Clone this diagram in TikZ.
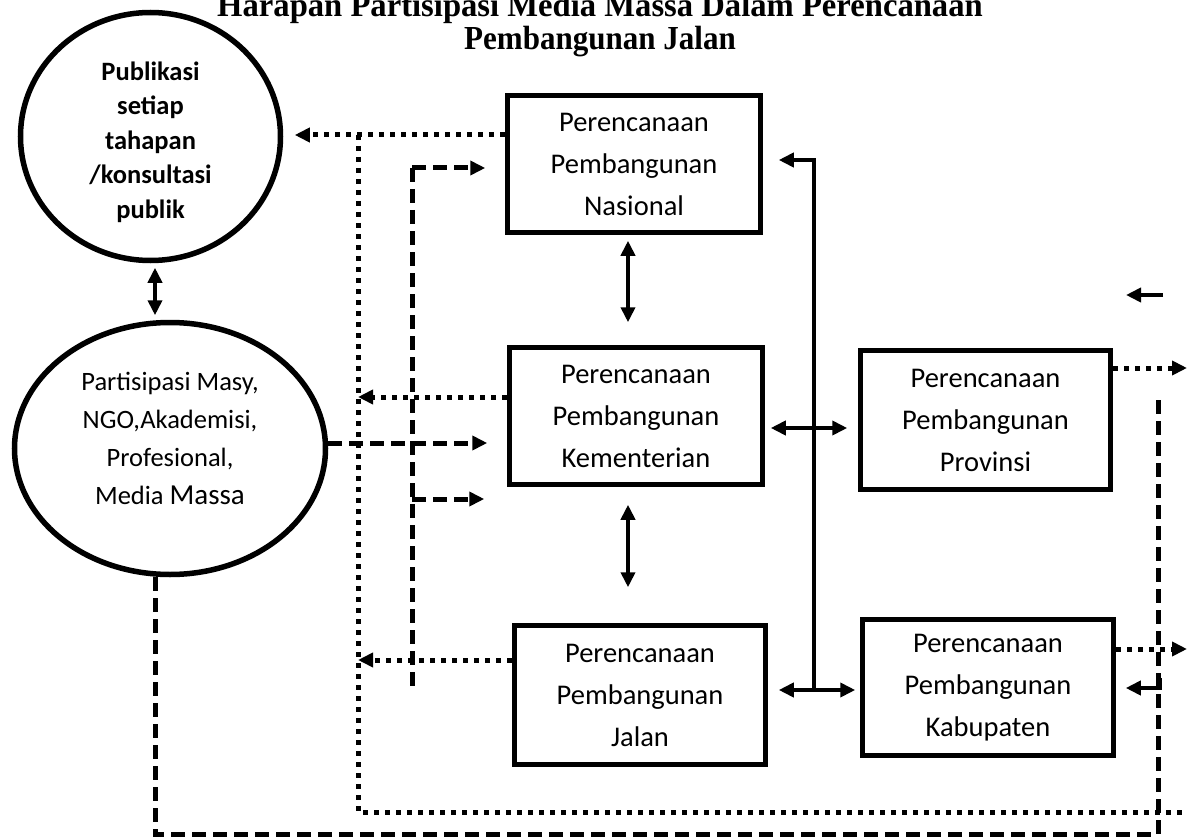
\documentclass[tikz,border=0pt]{standalone}
\usepackage{fontspec}
\setmainfont{Carlito}
\newfontfamily\titlefont{Liberation Serif}
\usetikzlibrary{arrows.meta,shapes.geometric,calc}
\begin{document}
\begin{tikzpicture}[x=1pt,y=-1pt,
  >={Triangle[length=15pt,width=14pt]},
  box/.style={draw,line width=5.5pt,inner sep=0pt,align=center,font=\fontsize{28.5}{42}\selectfont},
  oval/.style={draw,ellipse,line width=5.5pt,inner sep=0pt,align=center},
  dotl/.style={line width=5pt,dash pattern=on 5pt off 6pt},
  dashl/.style={line width=5pt,dash pattern=on 14pt off 7pt},
  soll/.style={line width=4.5pt},
  ttl/.style={anchor=base,inner sep=0pt,font=\titlefont\bfseries\fontsize{32}{32}\selectfont}
]
\useasboundingbox (0,0) rectangle (1187,840);

% title
\node[ttl] (t1) at (600,17) {\scalebox{1.02}[1.05]{Harapan Partisipasi Media Massa Dalam Perencanaan}};
\node[ttl] (t2) at (600,50) {\scalebox{0.97}[1.05]{Pembangunan Jalan}};

% ellipses
\node[oval,minimum width=260pt,minimum height=248pt,font=\bfseries\fontsize{26.5}{34.5}\selectfont] (pub) at (150.5,136.5)
  {\rule{0pt}{30pt}Publikasi\\setiap\\tahapan\\/konsultasi\\publik};
\node[oval,minimum width=311pt,minimum height=252pt,font=\fontsize{26.5}{38}\selectfont] (part) at (170,448.5)
  {Partisipasi Masy,\\NGO,Akademisi,\\Profesional,\\Media {\fontsize{29}{38}\selectfont Massa}\rule[-20pt]{0pt}{1pt}};

% boxes
\node[box,minimum width=253pt,minimum height=137pt] (nas) at (634,164) {Perencanaan\\Pembangunan\\Nasional};
\node[box,minimum width=253pt,minimum height=137pt] (kem) at (636,416) {Perencanaan\\Pembangunan\\Kementerian};
\node[box,minimum width=251pt,minimum height=139pt] (jal) at (640,695) {Perencanaan\\Pembangunan\\Jalan};
\node[box,minimum width=250pt,minimum height=139pt] (prov) at (985.5,420) {Perencanaan\\Pembangunan\\Provinsi};
\node[box,minimum width=251pt,minimum height=136pt] (kab) at (988,687.5) {Perencanaan\\Pembangunan\\Kabupaten};

% coordinates
\coordinate (dtop) at (358,135);
\coordinate (dbot) at (358,812);
\coordinate (dend) at (1187,812);
\coordinate (vt) at (412,168);
\coordinate (vb) at (412,692);
\coordinate (rb) at (1158,834);
\coordinate (rt) at (1158,397);
\coordinate (s1) at (814,690);
\coordinate (kr) at (1160,678);
\coordinate (fa) at (1163,295);
\coordinate (pr) at (1187,368);
\coordinate (kb) at (1187,649);

% solid double arrows
\draw[soll,<->] ([xshift=4.5pt,yshift=-4.5pt]pub.south) -- ([xshift=-15pt,yshift=4.5pt]part.north);
\draw[soll,<->] ([xshift=-6pt,yshift=-5.5pt]nas.south) -- ([xshift=-8pt,yshift=22.5pt]kem.north);
\draw[soll,<->] ([xshift=-8pt,yshift=-17.5pt]kem.south) -- ([xshift=-12pt,yshift=35.5pt]jal.north);
\draw[soll,<->] ([xshift=5.5pt,yshift=-12pt]kem.east) -- ([xshift=-10.5pt,yshift=-8pt]prov.west);
\draw[soll,<->] ([xshift=10.5pt,yshift=5pt]jal.east) -- ([xshift=-4.5pt,yshift=-2.5pt]kab.west);
\draw[soll,->] (s1) |- ([xshift=15.5pt,yshift=4pt]nas.east);
\draw[soll,->] (kr) |- ([xshift=9.5pt,yshift=-0.5pt]kab.east);
\draw[soll,->] (fa) -- ++(-37,0);

% dotted lines
\draw[dotl,->] ([yshift=29pt]nas.west) -- ([xshift=11.5pt,yshift=1.5pt]pub.east);
\draw[dotl] (dtop) -- (dbot) -- (dend);
\draw[dotl,->] ([yshift=19pt]kem.west) -- (dtop |- 0,397);
\draw[dotl,->] ([yshift=35pt]jal.west) -- (dtop |- 0,660);
\draw[dotl,->] ([yshift=52pt]prov.east) -- (pr);
\draw[dotl,->] ([yshift=38.5pt]kab.east) -- (kb);

% dashed lines
\draw[dashl] (vt) -- (vb);
\draw[dashl,->] (vt) -- ([xshift=-19.5pt,yshift=-4pt]nas.west);
\draw[dashl,->] ([yshift=5.5pt]part.east) -- ([xshift=-19.5pt,yshift=-27pt]kem.west);
\draw[dashl,->] (vt |- 0,499) -- ([xshift=-22.5pt,yshift=-83pt]kem.west);
\draw[dashl] ([xshift=-15pt]part.south) |- (rb) -- (rt);
\end{tikzpicture}
\end{document}
